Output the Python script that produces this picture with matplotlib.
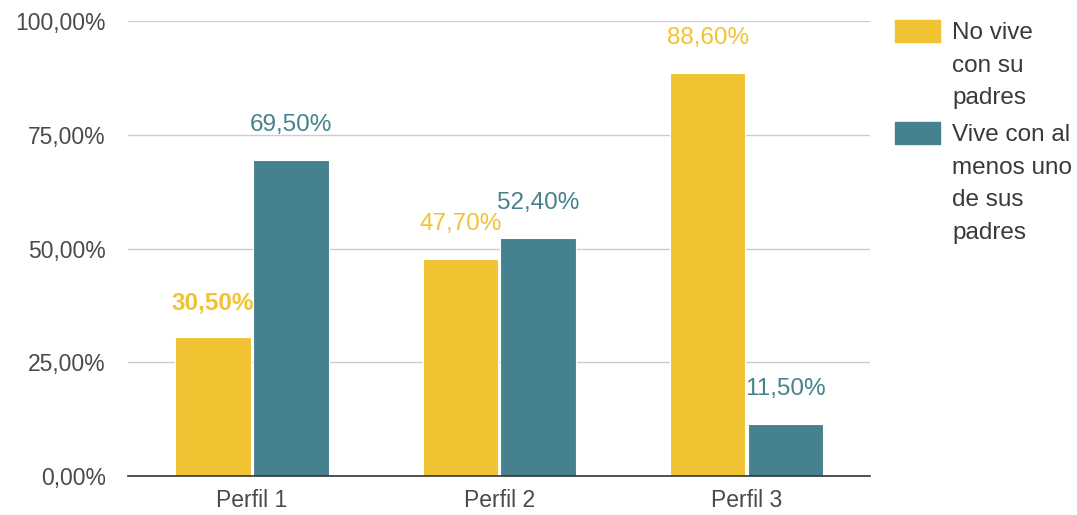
import matplotlib.pyplot as plt
from matplotlib.patches import Rectangle
import numpy as np

plt.rcParams['font.family'] = ['Liberation Sans', 'DejaVu Sans']

categories = ["Perfil 1", "Perfil 2", "Perfil 3"]
no_vive = [30.5, 47.7, 88.6]
vive = [69.5, 52.4, 11.5]
series_names = ["No vive\ncon su\npadres", "Vive con al\nmenos uno\nde sus\npadres"]
yticks = [0, 25, 50, 75, 100]

yellow = "#F1C232"
teal = "#45818E"

fig = plt.figure(figsize=(10.77, 5.15), dpi=100)
ax = fig.add_axes([0.119, 0.0757, 0.689, 0.883])

x = np.arange(len(categories))
w = 0.305
b1 = ax.bar(x - w / 2 - 0.005, no_vive, w, color=yellow, edgecolor="white", linewidth=0.8, zorder=2)
b2 = ax.bar(x + w / 2 + 0.005, vive, w, color=teal, edgecolor="white", linewidth=0.8, zorder=2)

def fmt(v):
    return f"{v:.2f}%".replace(".", ",")

for bars, vals, col in [(b1, no_vive, yellow), (b2, vive, teal)]:
    for i, (r, v) in enumerate(zip(bars, vals)):
        bold = col == yellow and i == 0
        ax.annotate(fmt(v), (r.get_x() + r.get_width() / 2, v), xytext=(0, 25),
                    textcoords="offset points", ha="center", va="center",
                    color=col, fontsize=17.5, fontweight="bold" if bold else "normal")

ax.set_xlim(-0.5, 2.5)
ax.set_ylim(0, 100)
ax.set_yticks(yticks)
ax.set_yticklabels([fmt(t) for t in yticks])
ax.set_xticks(x)
ax.set_xticklabels(categories)
ax.tick_params(axis="both", length=0, labelsize=16.5, labelcolor="#4a4a4a")
ax.tick_params(axis="y", pad=16)
ax.tick_params(axis="x", pad=9)
ax.yaxis.grid(True, color="#cccccc", linewidth=1, zorder=0)
ax.set_axisbelow(True)
for s in ["top", "right", "left"]:
    ax.spines[s].set_visible(False)
ax.spines["bottom"].set_color("#333333")
ax.spines["bottom"].set_linewidth(1.2)
ax.spines["bottom"].set_zorder(3)

# legend
for (ytop, col, name) in [(20, yellow, series_names[0]), (122, teal, series_names[1])]:
    fig.patches.append(Rectangle((895 / 1077, 1 - (ytop + 22) / 515), 45 / 1077, 22 / 515,
                                 transform=fig.transFigure, color=col))
    fig.text(952 / 1077, 1 - (ytop + 2) / 515, name, ha="left", va="top",
             fontsize=17.5, color="#3a3a3a", linespacing=1.62)

fig.savefig("out.png", dpi=100)
